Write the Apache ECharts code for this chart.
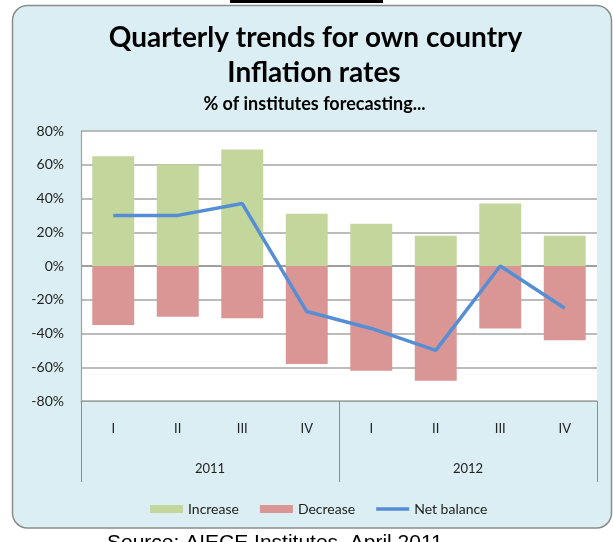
<!DOCTYPE html>
<html>
<head>
<meta charset="utf-8">
<script src="https://cdn.jsdelivr.net/npm/echarts@6/dist/echarts.min.js"></script>
<style>html,body{margin:0;padding:0;background:#fff}#c{width:613px;height:542px}</style>
</head>
<body>
<div id="c"></div>
<script>
var quarters = ['I', 'II', 'III', 'IV', 'I', 'II', 'III', 'IV'];
var years = ['2011', '2012'];
var increase = [65, 60, 69, 31, 25, 18, 37, 18];
var decrease = [-35, -30, -31, -58, -62, -68, -37, -44];
var netBalance = [30, 30, 37, -27, -37, -50, 0, -25];
var yTicks = { min: -80, max: 80, interval: 20 };

var chart = echarts.init(document.getElementById('c'), null, { renderer: 'canvas' });
var FONT = 'Lato';
var gridPos = { left: 81, right: 16, top: 131, bottom: 141 };
var splitColors = ['#a6a6a6', '#a6a6a6', '#a6a6a6', '#a6a6a6', '#7f7f7f', '#a6a6a6', '#a6a6a6', '#a6a6a6', '#a6a6a6'];

chart.setOption({
  backgroundColor: '#ffffff',
  animation: false,
  textStyle: { fontFamily: FONT },
  graphic: [
    { type: 'rect', z: -100, shape: { x: 12.5, y: 5.5, width: 599, height: 522.5, r: 15 },
      style: { fill: '#dbeef4', stroke: '#8c8c8c', lineWidth: 1.5 } },
    { type: 'rect', z: -100, shape: { x: 230, y: 0, width: 153, height: 3 }, style: { fill: '#000' } },
    { type: 'text', x: 315.5, y: 38, style: { text: 'Quarterly trends for own country', font: 'bold 28px ' + FONT, fill: '#000', textAlign: 'center', textVerticalAlign: 'middle' } },
    { type: 'text', x: 314, y: 73, style: { text: 'Inflation rates', font: 'bold 28px ' + FONT, fill: '#000', textAlign: 'center', textVerticalAlign: 'middle' } },
    { type: 'text', x: 314.5, y: 104, style: { text: '% of institutes forecasting...', font: 'bold 18px ' + FONT, fill: '#000', textAlign: 'center', textVerticalAlign: 'middle' } },
    { type: 'text', x: 107, y: 533, style: { text: 'Source: AIECE Institutes, April 2011', font: '21px "Liberation Sans", Arial', fill: '#000', textAlign: 'left', textVerticalAlign: 'top' } }
  ],
  legend: {
    left: 145, top: 497,
    itemWidth: 33, itemHeight: 8, itemGap: 21,
    textStyle: { fontFamily: FONT, fontSize: 14, color: '#222' },
    data: [
      { name: 'Increase', icon: 'rect' },
      { name: 'Decrease', icon: 'rect' },
      { name: 'Net balance', icon: 'path://M0,0L33,0L33,3.5L0,3.5Z' }
    ]
  },
  grid: [
    Object.assign({ show: true, backgroundColor: '#ffffff', borderWidth: 0, containLabel: false }, gridPos),
    Object.assign({ show: false, containLabel: false }, gridPos)
  ],
  xAxis: [
    { type: 'category', gridIndex: 0, data: quarters, position: 'bottom',
      axisLine: { show: true, onZero: false, lineStyle: { color: '#a0a0a0', width: 1.2 } },
      axisTick: { show: false },
      axisLabel: { margin: 21, fontSize: 13, color: '#222', fontFamily: FONT },
      splitLine: { show: false } },
    { type: 'category', gridIndex: 1, data: years, position: 'bottom',
      axisLine: { show: false, onZero: false },
      axisTick: { show: true, length: 81, lineStyle: { color: '#8c8c8c', width: 1 } },
      axisLabel: { margin: 61, fontSize: 13, color: '#222', fontFamily: FONT },
      splitLine: { show: false } }
  ],
  yAxis: [
    { type: 'value', gridIndex: 0, min: yTicks.min, max: yTicks.max, interval: yTicks.interval,
      axisLine: { show: true, lineStyle: { color: '#a0a0a0', width: 1.2 } },
      axisTick: { show: false },
      axisLabel: { formatter: '{value}%', margin: 17, fontSize: 14, color: '#222', fontFamily: FONT },
      splitLine: { show: true, lineStyle: { color: splitColors, width: 1.5 } } },
    { type: 'value', gridIndex: 1, min: yTicks.min, max: yTicks.max, interval: yTicks.interval, show: false }
  ],
  series: [
    { name: 'Increase', type: 'bar', stack: 'a', data: increase, barCategoryGap: '35%',
      itemStyle: { color: '#c3d69b' } },
    { name: 'Decrease', type: 'bar', stack: 'a', data: decrease, barCategoryGap: '35%',
      itemStyle: { color: '#d99694' } },
    { name: 'Net balance', type: 'line', data: netBalance, symbol: 'none', showSymbol: false,
      lineStyle: { color: '#558ed5', width: 3.5 }, itemStyle: { color: '#558ed5' }, z: 5 }
  ]
});
</script>
</body>
</html>
